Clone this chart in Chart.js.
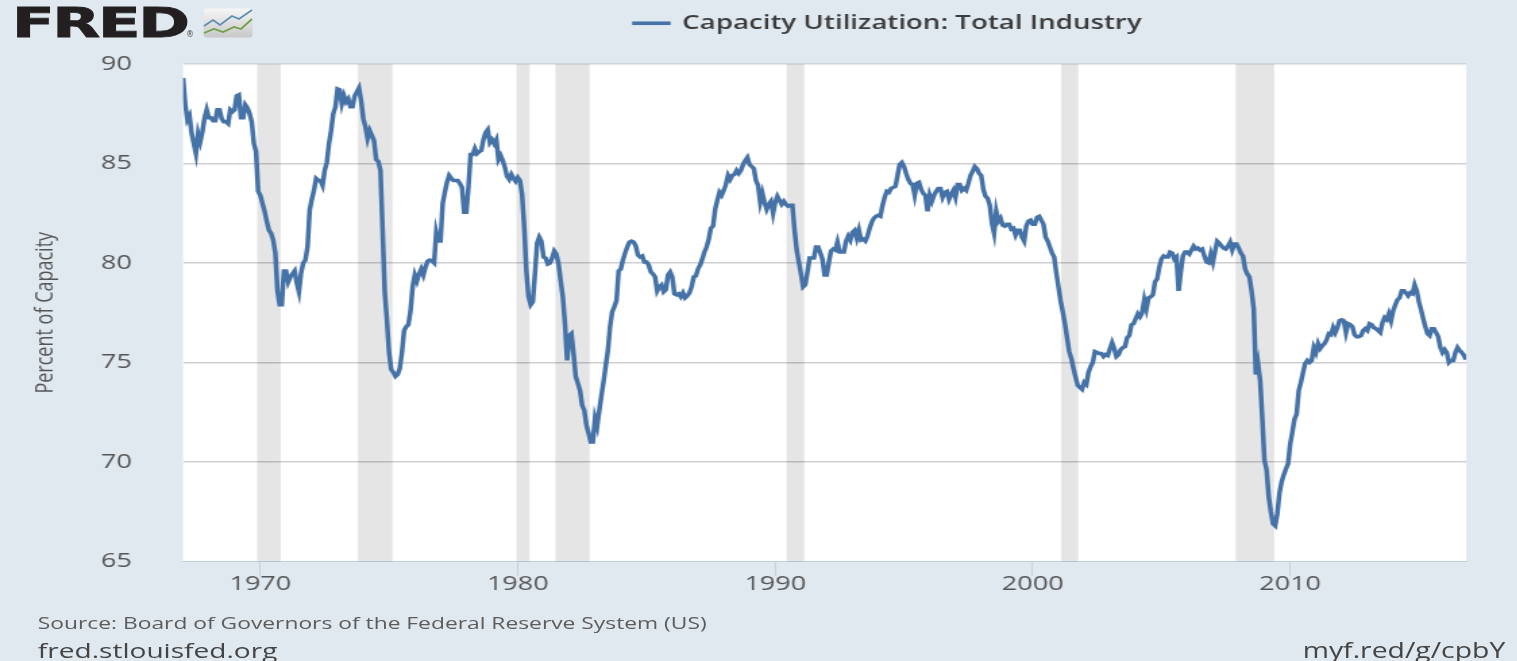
<!DOCTYPE html>
<html>
<head>
<meta charset="utf-8">
<script src="https://cdn.jsdelivr.net/npm/chart.js@4"></script>
<style>
html,body{margin:0;padding:0;background:#e1e9f0;overflow:hidden;width:1517px;height:661px}
#stage{position:absolute;left:0;top:0;width:1124px;height:661px;transform:scaleX(1.35);transform-origin:0 0;font-family:"Open Sans",sans-serif}
#stage canvas{position:absolute;left:0;top:0}
.note{position:absolute;white-space:nowrap;line-height:1}
#logo{position:absolute;left:12px;top:0;font:bold 40px/46px "DejaVu Sans",sans-serif;letter-spacing:-1.5px;-webkit-text-stroke:0.8px #231f20;color:#231f20;transform:scaleX(1.56);transform-origin:0 0;white-space:nowrap}
#reg{position:absolute;left:186px;top:31px;font:8px/8px "DejaVu Sans",sans-serif;color:#444}
#icon{position:absolute;left:203px;top:8px}
</style>
</head>
<body>
<div id="stage">
  <canvas id="c" width="1124" height="661"></canvas>
  <div class="note" id="src" style="left:28px;top:615px;font-size:16.9px;color:#5c5c5c">Source: Board of Governors of the Federal Reserve System (US)</div>
  <div class="note" id="site" style="left:28px;top:640px;font-size:20.8px;color:#444">fred.stlouisfed.org</div>
  <div class="note" id="short" style="right:9px;top:640px;font-size:21px;color:#444">myf.red/g/cpbY</div>
</div>
<div id="logo">FRED</div>
<div id="reg">®</div>
<svg id="icon" width="50" height="30" viewBox="0 0 50 30">
  <defs><linearGradient id="g" x1="0" y1="0" x2="0" y2="1"><stop offset="0" stop-color="#f6f6f6"/><stop offset="1" stop-color="#c8c8c8"/></linearGradient></defs>
  <rect x="0.5" y="0.5" width="49" height="29" rx="3" fill="url(#g)"/>
  <polyline points="1,18 10,12 17,17 29,8 36,11 49,2" fill="none" stroke="#5b8fb4" stroke-width="1.8"/>
  <polyline points="1,25 11,21 20,24 31,19 38,21 49,11" fill="none" stroke="#6fa04a" stroke-width="1.8"/>
</svg>
<script>
const seriesLabel = "Capacity Utilization: Total Industry";
const yAxisTitle = "Percent of Capacity";
const startYear = 1967;
const yTicks = [65, 70, 75, 80, 85, 90];
const xTickStep = 10;
// monthly values, Jan 1967 to Nov 2016 (one row per year)
const values = [
89.3,88.0,87.2,87.4,86.5,86.0,85.5,86.5,86.1,86.6,87.3,87.7,
87.3,87.3,87.15,87.15,87.7,87.7,87.25,87.1,87.1,87.0,87.7,87.6,
87.7,88.4,88.45,87.3,87.3,87.95,87.8,87.5,87.1,86.0,85.6,83.6,
83.4,83.0,82.6,82.1,81.65,81.5,81.15,80.5,78.6,77.9,77.9,79.6,
79.6,79.05,79.3,79.45,79.6,79.0,78.55,79.5,80.0,80.15,80.8,82.65,
83.2,83.65,84.25,84.15,84.15,83.9,84.65,85.05,86.0,86.65,87.5,87.85,
88.75,88.7,88.0,88.4,88.1,88.25,87.85,87.85,88.4,88.6,88.8,88.15,
87.25,86.85,86.25,86.65,86.4,86.15,85.2,85.1,84.65,81.65,78.55,77.15,
75.5,74.65,74.5,74.3,74.4,74.7,75.5,76.6,76.8,76.9,77.6,78.8,
79.4,79.1,79.45,79.7,79.4,79.8,80.1,80.15,80.1,80.0,81.55,81.1,
81.1,83.0,83.55,84.05,84.4,84.25,84.15,84.15,84.15,84.0,83.8,82.55,
82.55,83.8,85.45,85.45,85.75,85.5,85.6,85.65,86.2,86.55,86.7,86.05,
86.2,86.0,86.2,85.2,85.4,85.15,84.8,84.35,84.2,84.45,84.25,84.1,
84.3,84.15,83.45,81.8,79.6,78.3,77.9,78.05,79.45,81.0,81.3,81.1,
80.3,80.25,79.95,80.0,80.25,80.6,80.45,79.95,79.1,78.3,76.95,75.1,
76.35,76.45,75.45,74.3,73.95,73.6,72.85,72.6,71.85,71.45,71.0,71.0,
72.2,71.8,72.6,73.35,74.05,74.85,75.6,76.8,77.55,77.8,78.1,79.6,
79.7,80.15,80.5,80.8,81.05,81.1,81.05,80.85,80.4,80.3,80.35,80.05,
80.05,79.9,79.55,79.45,79.3,78.6,78.8,78.9,78.55,78.65,79.4,79.55,
79.3,78.45,78.4,78.45,78.3,78.5,78.25,78.35,78.5,78.8,79.3,79.35,
79.7,79.9,80.2,80.55,80.8,81.2,81.75,81.85,82.7,83.15,83.55,83.4,
83.65,83.95,84.4,84.2,84.4,84.45,84.65,84.5,84.65,84.95,85.15,85.3,
84.95,84.85,84.75,84.15,83.9,83.05,83.5,83.05,82.7,82.95,83.1,82.5,
83.05,83.35,83.15,82.95,83.1,82.95,82.85,82.9,82.9,81.65,80.65,80.05,
79.45,78.8,78.9,79.55,80.25,80.25,80.25,80.8,80.8,80.5,80.2,79.4,
79.4,80.05,80.6,80.7,80.65,81.05,80.55,80.55,80.55,81.1,81.35,81.15,
81.55,81.65,81.25,81.65,81.15,81.2,81.1,81.35,81.75,82.05,82.25,82.35,
82.4,82.35,82.9,83.3,83.6,83.55,83.75,83.8,83.85,84.4,84.95,85.05,
84.85,84.5,84.2,84.0,83.95,83.4,84.0,84.05,83.7,83.5,83.4,82.6,
83.4,83.1,83.4,83.6,83.75,83.75,83.3,83.55,83.6,83.2,83.45,83.65,
83.3,83.95,83.95,83.65,83.75,83.65,84.0,84.4,84.6,84.85,84.75,84.5,
84.4,83.7,83.35,83.25,82.9,82.0,81.5,82.6,82.1,82.25,81.9,81.85,
81.95,81.95,81.7,81.75,81.4,81.65,81.65,81.3,81.1,81.85,82.1,82.15,
81.95,81.95,82.3,82.35,82.15,81.95,81.3,81.1,80.8,80.5,80.3,79.5,
78.8,78.1,77.55,76.95,76.25,75.55,75.2,74.7,74.25,73.85,73.75,73.65,
74.0,73.9,74.5,74.8,75.0,75.55,75.5,75.45,75.45,75.3,75.4,75.35,
75.7,76.0,75.7,75.3,75.4,75.65,75.75,75.8,76.25,76.35,76.9,76.95,
77.2,77.45,77.3,77.5,78.15,77.7,78.25,78.3,78.4,79.05,79.2,79.8,
80.2,80.35,80.3,80.3,80.55,80.5,80.2,80.3,78.6,79.55,80.35,80.55,
80.55,80.45,80.65,80.85,80.7,80.75,80.65,80.7,80.35,80.05,80.0,80.45,
80.05,80.6,81.1,81.0,80.85,80.75,80.7,80.85,81.05,80.65,80.95,80.95,
80.75,80.5,80.35,79.7,79.45,79.3,78.6,77.7,74.4,74.95,74.1,72.2,
70.1,69.6,68.25,67.5,66.9,66.8,67.4,68.45,69.0,69.35,69.65,69.9,
70.9,71.5,72.15,72.4,73.6,74.0,74.5,74.95,75.1,75.0,75.1,75.75,
75.5,75.95,75.7,75.85,75.95,76.15,76.45,76.4,76.75,76.5,76.75,77.1,
77.15,77.1,76.5,76.95,76.9,76.8,76.4,76.3,76.3,76.35,76.6,76.7,
76.6,76.95,76.9,76.75,76.7,76.6,76.5,77.0,77.25,77.15,77.45,77.1,
77.6,77.9,78.15,78.25,78.6,78.6,78.5,78.35,78.5,78.45,78.9,78.6,
78.05,77.65,77.2,76.8,76.45,76.35,76.7,76.7,76.5,76.3,75.75,75.5,
75.65,75.5,75.0,75.1,75.1,75.5,75.75,75.6,75.5,75.35,75.15
];
const recessionStarts = [1969.88,1973.79,1979.95,1981.46,1990.44,2001.1,2007.88];
const recessionEnds   = [1970.79,1975.13,1980.46,1982.79,1991.13,2001.77,2009.38];

const points = values.map((v,i)=>({x:startYear+i/12,y:v}));

const recessionBands = {
  id:'recessionBands',
  beforeDatasetsDraw(chart){
    const {ctx,chartArea:a,scales:{x}} = chart;
    ctx.save();
    ctx.fillStyle='rgba(0,0,0,0.1)';
    recessionStarts.forEach((s,i)=>{
      const l=x.getPixelForValue(s), r=x.getPixelForValue(recessionEnds[i]);
      ctx.fillRect(l,a.top,r-l,a.bottom-a.top);
    });
    ctx.restore();
  }
};
const plotBackground = {
  id:'plotBackground',
  beforeDraw(chart){
    const {ctx,chartArea:a} = chart;
    ctx.save();ctx.fillStyle='#fff';ctx.fillRect(a.left,a.top,a.right-a.left,a.bottom-a.top);ctx.restore();
  }
};
const legendPlacement = {
  id:'legendPlacement',
  beforeDraw(chart){
    const l=chart.legend;
    l.left=460; l.right=1100; l.top=3; l.bottom=43;
  }
};

new Chart(document.getElementById('c'),{
  type:'line',
  data:{datasets:[{label:seriesLabel,data:points,borderColor:'#4572a7',backgroundColor:'#4572a7',
    borderWidth:3.5,pointRadius:0,tension:0,fill:false}]},
  plugins:[plotBackground,recessionBands,legendPlacement],
  options:{
    responsive:false,animation:false,
    layout:{padding:{top:23.5,right:38,bottom:0,left:0}},
    plugins:{
      tooltip:{enabled:false},
      legend:{display:true,position:'top',align:'start',
        labels:{boxWidth:25,boxHeight:0.1,padding:10,color:'#3c3c3c',
          font:{family:'"Open Sans"',size:20.5,weight:'600'}}}
    },
    scales:{
      x:{type:'linear',min:startYear,max:startYear+(values.length-1)/12,
        afterFit(s){s.height=99.5;},
        border:{display:true,color:'#c0d0e0',width:1},
        grid:{drawOnChartArea:false,drawTicks:true,tickLength:14,color:'#c0d0e0'},
        ticks:{stepSize:xTickStep,includeBounds:false,maxRotation:0,padding:-3,color:'#555',
          font:{family:'"Open Sans"',size:20},callback:v=>String(v)}},
      y:{type:'linear',min:yTicks[0],max:yTicks[yTicks.length-1],
        afterFit(s){s.width=135.6;},
        border:{display:false},
        grid:{drawTicks:false,lineWidth:1.4,color:c=>c.tick&&c.tick.value===90?'#ccd4dc':(c.tick&&c.tick.value===65?'rgba(0,0,0,0)':'#cfcfcf')},
        title:{display:true,text:yAxisTitle,color:'#555',font:{family:'"Open Sans"',size:18},padding:{top:23,bottom:0}},
        afterBuildTicks(s){s.ticks=yTicks.map(v=>({value:v}));},
        ticks:{padding:38,color:'#555',font:{family:'"Open Sans"',size:20},callback:v=>String(v)}}
    }
  }
});
</script>
</body>
</html>
